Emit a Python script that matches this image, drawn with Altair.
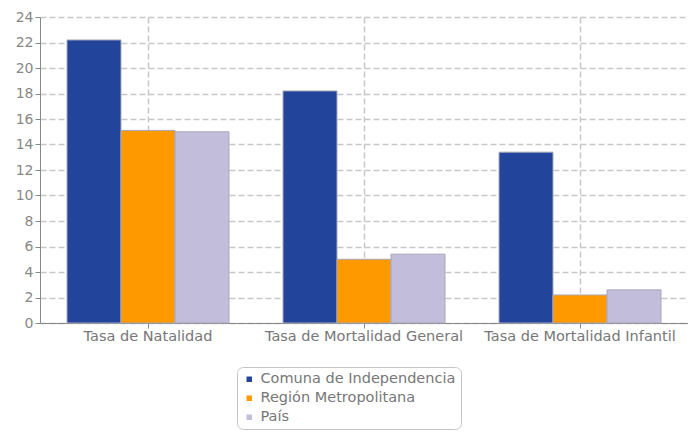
import altair as alt
import pandas as pd

categories = ["Tasa de Natalidad", "Tasa de Mortalidad General", "Tasa de Mortalidad Infantil"]
series = ["Comuna de Independencia", "Región Metropolitana", "País"]
comuna = [22.2, 18.2, 13.4]
region = [15.1, 5.0, 2.2]
pais = [15.0, 5.4, 2.6]
colors = ["#22449A", "#FF9900", "#C1BDDB"]
y_ticks = list(range(0, 25, 2))

rows = []
for s, vals in zip(series, [comuna, region, pais]):
    for c, v in zip(categories, vals):
        rows.append({"categoria": c, "serie": s, "valor": v})
df = pd.DataFrame(rows)

FONT = "DejaVu Sans"

chart = alt.Chart(df).mark_bar(stroke="#A8A8B8", strokeWidth=1).encode(
    x=alt.X("categoria:N", sort=categories, title=None,
            scale=alt.Scale(paddingInner=0.25, paddingOuter=0.125),
            axis=alt.Axis(labelAngle=0, grid=True, bandPosition=0.5,
                          gridDash=[6, 3], gridColor="#C8C8C8", gridWidth=1.5,
                          domainColor="#888888", tickColor="#888888", tickSize=5,
                          labelColor="#777777", labelFontSize=14.5, labelFont=FONT,
                          labelPadding=1, labelLimit=0)),
    xOffset=alt.XOffset("serie:N", sort=series),
    y=alt.Y("valor:Q", title=None,
            scale=alt.Scale(domain=[0, 24], nice=False),
            axis=alt.Axis(values=y_ticks, grid=True, gridDash=[6, 3],
                          gridColor="#C8C8C8", gridWidth=1.5,
                          domainColor="#888888", tickColor="#888888", tickSize=5,
                          labelColor="#888888", labelFontSize=14, labelFont=FONT,
                          labelPadding=2)),
    color=alt.Color("serie:N", sort=series,
                    scale=alt.Scale(domain=series, range=colors),
                    legend=alt.Legend(title=None, orient="none", legendX=197, legendY=350,
                                      symbolType="square", symbolSize=30,
                                      symbolStrokeWidth=0,
                                      labelColor="#777777", labelFontSize=14.5, labelFont=FONT,
                                      labelLimit=0, rowPadding=4, padding=5,
                                      strokeColor="#C4C4C4", cornerRadius=6,
                                      fillColor="white")),
).properties(
    width=648, height=306,
    autosize=alt.AutoSizeParams(type="none"),
    padding={"left": 32, "top": 9, "right": 0, "bottom": 108},
).configure_view(stroke=None)

chart.save("out.html", embed_options={"renderer": "svg", "actions": False})
